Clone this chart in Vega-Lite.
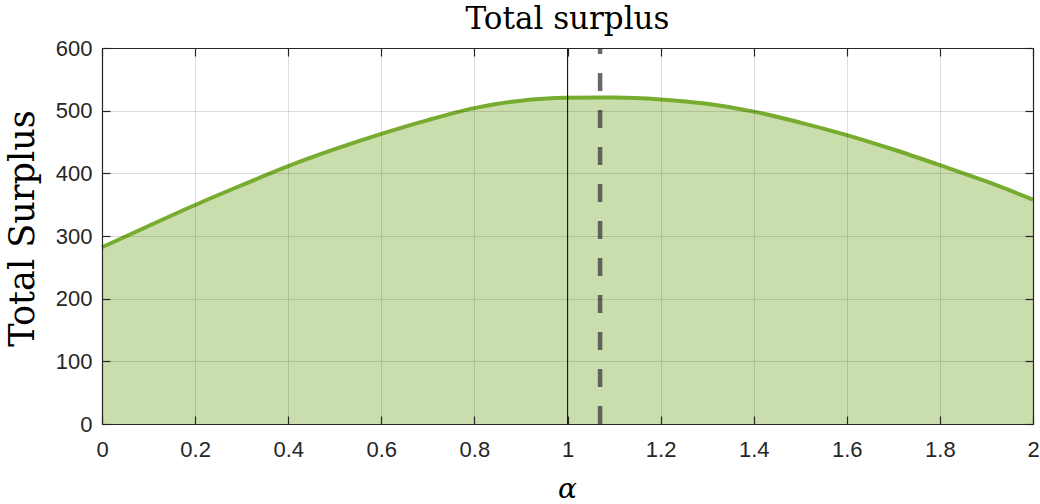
{
  "$schema": "https://vega.github.io/schema/vega-lite/v6.json",
  "width": 931,
  "height": 376,
  "autosize": {"type": "none"},
  "padding": {"left": 102, "top": 48, "right": 7, "bottom": 80},
  "background": "white",
  "config": {"view": {"stroke": null}},
  "datasets": {
    "curve": [
      {"alpha": 0.0, "ts": 282},
      {"alpha": 0.1, "ts": 316},
      {"alpha": 0.2, "ts": 349.5},
      {"alpha": 0.3, "ts": 381},
      {"alpha": 0.4, "ts": 411.5},
      {"alpha": 0.5, "ts": 438.5},
      {"alpha": 0.6, "ts": 463},
      {"alpha": 0.7, "ts": 485},
      {"alpha": 0.8, "ts": 504},
      {"alpha": 0.85, "ts": 511},
      {"alpha": 0.9, "ts": 516},
      {"alpha": 1.0, "ts": 520.5},
      {"alpha": 1.07, "ts": 521},
      {"alpha": 1.1, "ts": 521},
      {"alpha": 1.2, "ts": 518},
      {"alpha": 1.3, "ts": 511},
      {"alpha": 1.4, "ts": 498.5},
      {"alpha": 1.5, "ts": 481},
      {"alpha": 1.6, "ts": 461},
      {"alpha": 1.7, "ts": 438},
      {"alpha": 1.8, "ts": 413},
      {"alpha": 1.9, "ts": 387},
      {"alpha": 2.0, "ts": 358}
    ],
    "vlines": [
      {"alpha": 1.0, "kind": "solid", "lo": 0, "hi": 600},
      {"alpha": 1.07, "kind": "dash", "lo": 0, "hi": 600}
    ]
  },
  "layer": [
    {
      "data": {"name": "curve"},
      "mark": {"type": "area", "color": "#77ac30", "fillOpacity": 0.4, "interpolate": "monotone"},
      "encoding": {
        "x": {"field": "alpha", "type": "quantitative", "scale": {"domain": [0, 2], "nice": false, "zero": false},
          "axis": {"orient": "bottom", "title": "α", "titleFont": "DejaVu Serif", "titleFontStyle": "italic", "titleFontSize": 28, "titleFontWeight": "normal", "titleColor": "#000000", "titleX": 465, "titleY": 73, "titleBaseline": "alphabetic", "titleAnchor": null, "titleAlign": "center",
            "values": [0, 0.2, 0.4, 0.6, 0.8, 1, 1.2, 1.4, 1.6, 1.8, 2], "format": "~g",
            "labelFont": "Liberation Sans", "labelFontSize": 22, "labelColor": "#262626", "labelPadding": 23, "labelFlush": false,
            "tickSize": -8, "tickColor": "#262626", "tickWidth": 1.2, "domainColor": "#262626", "domainWidth": 1.2,
            "grid": true, "gridColor": "#000000", "gridOpacity": 0.13, "gridWidth": 1, "zindex": 1}},
        "y": {"field": "ts", "type": "quantitative", "scale": {"domain": [0, 600], "nice": false},
          "axis": {"orient": "left", "title": "Total Surplus", "titleFont": "DejaVu Serif", "titleFontSize": 35, "titleFontWeight": "normal", "titleColor": "#000000", "titleAngle": -90, "titleX": -69, "titleY": 180, "titleBaseline": "alphabetic", "titleAlign": "center", "titleAnchor": null,
            "values": [0, 100, 200, 300, 400, 500, 600],
            "labelFont": "Liberation Sans", "labelFontSize": 22, "labelColor": "#262626", "labelPadding": 18,
            "tickSize": -8, "tickColor": "#262626", "tickWidth": 1.2, "domainColor": "#262626", "domainWidth": 1.2,
            "grid": true, "gridColor": "#000000", "gridOpacity": 0.13, "gridWidth": 1, "zindex": 1}}
      }
    },
    {
      "data": {"name": "curve"},
      "mark": {"type": "line", "color": "#77ac30", "strokeWidth": 4, "interpolate": "monotone"},
      "encoding": {
        "x": {"field": "alpha", "type": "quantitative",
          "axis": {"orient": "top", "title": "Total surplus", "titleFont": "DejaVu Serif", "titleFontSize": 31, "titleFontWeight": "normal", "titleColor": "#000000", "titleX": 465, "titleY": -20, "titleBaseline": "alphabetic", "titleAlign": "center", "titleAnchor": null,
            "labels": false, "grid": false, "values": [0, 0.2, 0.4, 0.6, 0.8, 1, 1.2, 1.4, 1.6, 1.8, 2], "tickSize": -8, "tickColor": "#262626", "tickWidth": 1.2, "domainColor": "#262626", "domainWidth": 1.2, "zindex": 1}},
        "y": {"field": "ts", "type": "quantitative",
          "axis": {"orient": "right", "title": null, "labels": false, "grid": false, "values": [0, 100, 200, 300, 400, 500, 600], "tickSize": -8, "tickColor": "#262626", "tickWidth": 1.2, "domainColor": "#262626", "domainWidth": 1.2, "zindex": 1}}
      }
    },
    {
      "data": {"name": "vlines"},
      "transform": [{"filter": "datum.kind === 'solid'"}],
      "mark": {"type": "rule", "color": "#1a1a1a", "strokeWidth": 1},
      "encoding": {
        "x": {"field": "alpha", "type": "quantitative", "axis": null},
        "y": {"field": "lo", "type": "quantitative", "axis": null},
        "y2": {"field": "hi"}
      }
    },
    {
      "data": {"name": "vlines"},
      "transform": [{"filter": "datum.kind === 'dash'"}],
      "mark": {"type": "rule", "color": "#4d4d4d", "opacity": 0.85, "strokeWidth": 4.5, "strokeDash": [18, 19]},
      "encoding": {
        "x": {"field": "alpha", "type": "quantitative", "axis": null},
        "y": {"field": "lo", "type": "quantitative", "axis": null},
        "y2": {"field": "hi"}
      }
    }
  ]
}
